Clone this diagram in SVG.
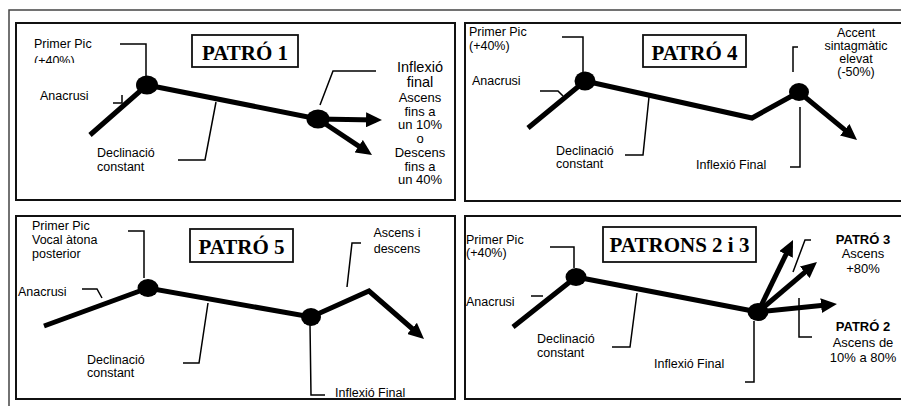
<svg xmlns="http://www.w3.org/2000/svg" width="901" height="406" viewBox="0 0 901 406">
<style>
.frame{fill:none;stroke:#444;stroke-width:1.5}
.panel{fill:#fff;stroke:#111;stroke-width:2}
.tbox{fill:#fff;stroke:#111;stroke-width:1.8}
.title{font-family:"Liberation Serif","Times New Roman",serif;font-weight:bold;font-size:21px;fill:#000;text-anchor:middle}
.lbl{font-family:"Liberation Sans",Arial,sans-serif;font-size:12.5px;fill:#000}
.mid{text-anchor:middle}
.big{font-size:14.5px}
.med{font-size:13px}
.sm{font-size:13px}
.b{font-weight:bold}
.pitch{fill:none;stroke:#000;stroke-width:5;stroke-linejoin:miter}
.arr{fill:none;stroke:#000;stroke-width:5;marker-end:url(#ah)}
.call{fill:none;stroke:#000;stroke-width:1.5}
.dot{fill:#000}
</style>
<defs>
<marker id="ah" viewBox="0 0 10 9.4" refX="6.25" refY="4.7" markerWidth="3.2" markerHeight="3" orient="auto" markerUnits="strokeWidth">
<path d="M0,0 L10,4.7 L0,9.4 z" fill="#000"/>
</marker>
<clipPath id="clip1"><rect x="20" y="25" width="120" height="38"/></clipPath>
</defs>
<rect width="901" height="406" fill="#fff"/>
<path class="frame" d="M9,406 V10 H901"/>

<g id="panel1">
<rect class="panel" x="16" y="23" width="439" height="177"/>
<g id="title1"><rect class="tbox" x="192" y="35" width="106" height="32"/><text class="title" x="245" y="60">PATRÓ 1</text></g>
</g>
<g id="panel4">
<rect class="panel" x="465" y="23" width="445" height="178"/>
<g id="title4"><rect class="tbox" x="643" y="35" width="103" height="32"/><text class="title" x="694.5" y="60">PATRÓ 4</text></g>
</g>
<g id="panel5">
<rect class="panel" x="16" y="216" width="439" height="183"/>
<g id="title5"><rect class="tbox" x="190" y="229" width="103" height="33"/><text class="title" x="241.5" y="254">PATRÓ 5</text></g>
</g>
<g id="panel23">
<rect class="panel" x="465" y="216" width="445" height="183"/>
<g id="title23"><rect class="tbox" x="603" y="227" width="153" height="35"/><text class="title" x="679.5" y="252">PATRONS 2 i 3</text></g>
</g>

<g id="connectors">
<!-- panel 1 -->
<polyline class="pitch" points="90,135 147,85 318,119"/>
<line class="arr" x1="318" y1="119" x2="376" y2="120"/>
<line class="arr" x1="318" y1="119" x2="367" y2="151.7"/>
<polyline class="call" points="120,44 146,44 146,76"/>
<polyline class="call" points="113,103 122,103 122,95"/>
<polyline class="call" points="178,160 205,160 216,102"/>
<polyline class="call" points="376,71 333,71 320,105"/>
<!-- panel 4 -->
<polyline class="arr" points="528,128 585,81 752,118 799,92 852.4,136.1"/>
<polyline class="call" points="562,37 583,37 583,73"/>
<polyline class="call" points="540,91 558,91 563,96"/>
<polyline class="call" points="625,155 643,155 649,97"/>
<polyline class="call" points="798,47 793,47 793,72"/>
<polyline class="call" points="790,167 800,167 800,107"/>
<!-- panel 5 -->
<polyline class="arr" points="44,326 148,288 311,317 369,291 419.5,335"/>
<polyline class="call" points="128,231 144,231 144,278"/>
<polyline class="call" points="82,289 97,289 102,298"/>
<polyline class="call" points="361,243 352,243 347,287"/>
<polyline class="call" points="183,363 199,363 208,303"/>
<polyline class="call" points="310,324 311,395 325,395"/>
<!-- panel 2/3 -->
<polyline class="pitch" points="513,327 576,277 758,312"/>
<line class="arr" x1="758" y1="312" x2="790.4" y2="245.4"/>
<line class="arr" x1="758" y1="312" x2="812.4" y2="265.9"/>
<line class="arr" x1="758" y1="312" x2="831" y2="304.6"/>
<polyline class="call" points="550,247 574,247 574,268"/>
<polyline class="call" points="531,296 543,296"/>
<polyline class="call" points="811,240 805,240 793,272"/>
<polyline class="call" points="799,298 799,337 812,337"/>
<polyline class="call" points="612,347 630,347 637,293"/>
<polyline class="call" points="754,321 754,382 745,382"/>
</g>

<g id="dots">
<ellipse class="dot" cx="147" cy="85" rx="11" ry="9.5"/>
<ellipse class="dot" cx="318" cy="119" rx="11.5" ry="9.5"/>
<ellipse class="dot" cx="585" cy="81" rx="10.5" ry="9.5"/>
<ellipse class="dot" cx="799" cy="92" rx="10" ry="9"/>
<ellipse class="dot" cx="148" cy="288" rx="10.5" ry="9"/>
<ellipse class="dot" cx="311" cy="317" rx="10" ry="9"/>
<ellipse class="dot" cx="576" cy="277" rx="10.5" ry="9"/>
<ellipse class="dot" cx="758" cy="312" rx="10.5" ry="9"/>
</g>

<g id="labels1">
<text class="lbl" x="34" y="48">Primer Pic</text>
<text class="lbl" x="34" y="64.5" clip-path="url(#clip1)">(+40%)</text>
<text class="lbl" x="40" y="100">Anacrusi</text>
<text class="lbl" x="97" y="157">Declinació</text>
<text class="lbl" x="97" y="171">constant</text>
<text class="lbl mid big" x="420" y="71.5">Inflexió</text>
<text class="lbl mid big" x="420" y="87">final</text>
<text class="lbl mid med" x="420" y="102">Ascens</text>
<text class="lbl mid med" x="420" y="115.5">fins a</text>
<text class="lbl mid med" x="420" y="129">un 10%</text>
<text class="lbl mid med" x="420" y="142.5">o</text>
<text class="lbl mid med" x="420" y="156.5">Descens</text>
<text class="lbl mid med" x="420" y="170.5">fins a</text>
<text class="lbl mid med" x="420" y="184">un 40%</text>
</g>
<g id="labels4">
<text class="lbl" x="469" y="36">Primer Pic</text>
<text class="lbl" x="469" y="50">(+40%)</text>
<text class="lbl" x="472" y="85">Anacrusi</text>
<text class="lbl" x="556" y="155">Declinació</text>
<text class="lbl" x="556" y="168">constant</text>
<text class="lbl" x="696" y="169">Inflexió Final</text>
<text class="lbl mid" x="856" y="37">Accent</text>
<text class="lbl mid" x="856" y="50">sintagmàtic</text>
<text class="lbl mid" x="856" y="63">elevat</text>
<text class="lbl mid" x="856" y="76">(-50%)</text>
</g>
<g id="labels5">
<text class="lbl" x="32" y="230">Primer Pic</text>
<text class="lbl" x="32" y="244">Vocal àtona</text>
<text class="lbl" x="32" y="257.5">posterior</text>
<text class="lbl" x="18" y="296">Anacrusi</text>
<text class="lbl mid" x="397" y="237">Ascens i</text>
<text class="lbl mid" x="397" y="253">descens</text>
<text class="lbl" x="87" y="364">Declinació</text>
<text class="lbl" x="87" y="377">constant</text>
<text class="lbl" x="335" y="397">Inflexió Final</text>
</g>
<g id="labels23">
<text class="lbl" x="466" y="244">Primer Pic</text>
<text class="lbl" x="466" y="257">(+40%)</text>
<text class="lbl" x="466" y="306">Anacrusi</text>
<text class="lbl" x="537" y="343">Declinació</text>
<text class="lbl" x="537" y="357">constant</text>
<text class="lbl" x="654" y="368">Inflexió Final</text>
<text class="lbl mid sm b" x="863" y="244">PATRÓ 3</text>
<text class="lbl mid sm" x="863" y="258">Ascens</text>
<text class="lbl mid sm" x="863" y="273">+80%</text>
<text class="lbl mid sm b" x="863" y="331">PATRÓ 2</text>
<text class="lbl mid sm" x="863" y="347">Ascens de</text>
<text class="lbl mid sm" x="863" y="362">10% a 80%</text>
</g>
</svg>
